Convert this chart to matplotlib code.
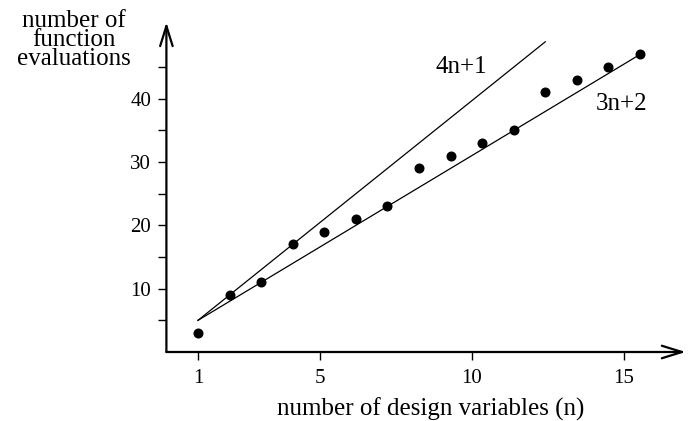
import matplotlib
matplotlib.use("Agg")
import matplotlib.pyplot as plt
import numpy as np

plt.rcParams['font.family'] = ['Liberation Serif', 'DejaVu Serif']

# measured number of function evaluations per design-variable count
n_vars = np.array([1, 2, 3, 4, 5, 6, 7, 8, 9, 10, 11, 12, 13, 14, 15])
evals = np.array([3, 9, 11, 17, 19, 21, 23, 29, 31, 33, 35, 41, 43, 45, 47])

# reference lines
n_line1 = np.array([1, 12])
n_line2 = np.array([1, 15])
line_4n1 = 4 * n_line1 + 1
line_3n2 = 3 * n_line2 + 2

xtick_labels = [1, 5, 10, 15]
ytick_major = [10, 20, 30, 40]
ytick_minor = [5, 15, 25, 35, 45]

fig = plt.figure(figsize=(6.91, 4.21), dpi=100)
W, H = 691, 421
x0, y0 = 166.4, 352.0          # pixel position of origin
sx, sy = 31.57, 6.33           # pixels per unit
xmax, ymax = 16.5, 52.5
ax = fig.add_axes([x0 / W, (H - y0) / H, xmax * sx / W, ymax * sy / H])
ax.set_xlim(0, xmax)
ax.set_ylim(0, ymax)
for s in ax.spines.values():
    s.set_visible(False)

ax.plot(n_line1, line_4n1, color='black', lw=0.9)
ax.plot(n_line2, line_3n2, color='black', lw=0.9)
ax.plot(n_vars, evals, 'o', color='black', ms=6.2)

# axes drawn as arrows
arrow = dict(arrowstyle='->,head_length=1.45,head_width=0.45', color='black',
             lw=1.6, mutation_scale=10, shrinkA=0, shrinkB=0)
ax.annotate('', xy=(16.45, 0), xytext=(0, 0), arrowprops=arrow, annotation_clip=False)
ax.annotate('', xy=(0, 52.1), xytext=(0, 0), arrowprops=arrow, annotation_clip=False)

# tick marks sit on a slightly narrower scale in the original figure
tick_scale = 30.43 / sx
ax.set_xticks([1 + (t - 1) * tick_scale for t in xtick_labels])
ax.set_xticklabels([str(t) for t in xtick_labels])
ax.set_yticks(ytick_major)
ax.set_yticks(ytick_minor, minor=True)
ax.tick_params(axis='both', which='both', direction='out', length=6, width=1,
               labelsize=15)
ax.tick_params(axis='x', pad=6)
ax.tick_params(axis='y', pad=5)

ax.text(9.33, 45.0, '4n+1', fontsize=18, ha='center', va='center')
ax.text(14.43, 39.2, '3n+2', fontsize=18, ha='center', va='center')

fig.text(431 / W, 1 - 409 / H, 'number of design variables (n)', fontsize=18,
         ha='center', va='center')
fig.text(74 / W, 1 - 40 / H, 'number of\nfunction\nevaluations', fontsize=18,
         ha='center', va='center', linespacing=0.82)

fig.savefig('out.png', dpi=100)
